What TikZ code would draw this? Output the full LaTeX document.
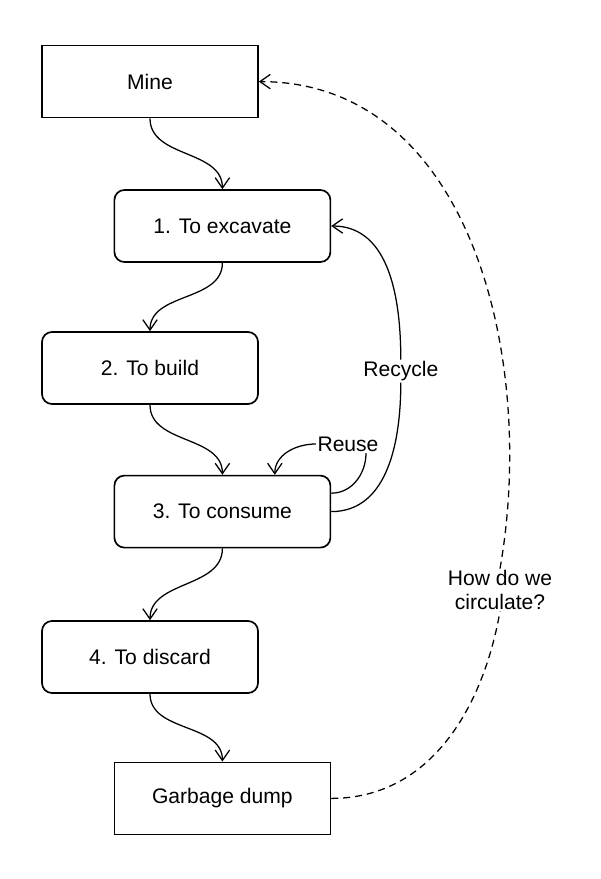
\documentclass[tikz,border=0pt]{standalone}
\usepackage{fontspec}
\setmainfont{Liberation Sans}
\usetikzlibrary{arrows.meta}

\begin{document}
\begin{tikzpicture}[
		box/.style = {draw, line width=1.2pt, minimum width=5.4cm, minimum height=1.8cm, font=\fontsize{15}{17}\selectfont},
		rbox/.style = {box, rounded corners=0.25cm},
		flow/.style = {line width=0.9pt, -{Straight Barb[length=2.6mm, width=3.6mm]}},
		lbl/.style = {font=\fontsize{15}{17}\selectfont, inner sep=1pt, align=center}]
		\useasboundingbox (0,0) rectangle (15,-21.975);
		\node[box] (M) at (3.75,-2.04) {Mine};
		\node[rbox] (E) at (5.56,-5.65) {1. To excavate};
		\node[rbox] (B) at (3.75,-9.2) {2. To build};
		\node[rbox] (C) at (5.56,-12.79) {3. To consume};
		\node[rbox] (D) at (3.75,-16.425) {4. To discard};
		\node[box] (G) at (5.56,-19.96) {Garbage dump};
		\node[lbl] (rec) at (10.02,-9.28) {Recycle};
		\node[lbl] (reuse) at (8.7,-11.1) {Reuse};
		\node[lbl] (circ) at (12.5,-14.75) {How do we\\circulate?};
		\path[flow] (M.south) edge[out=-90, in=90] (E.north)
			(E.south) edge[out=-90, in=90] (B.north)
			(B.south) edge[out=-90, in=90] (C.north)
			(C.south) edge[out=-90, in=90] (D.north)
			(D.south) edge[out=-90, in=90] (G.north);
		\draw[flow] (C.east) to[out=0, in=-90] (rec.south) (rec.north) to[out=90, in=0] (E.east);
		\draw[flow] ([yshift=0.46cm]C.east) to[out=0, in=-90] ([xshift=0.45cm]reuse.south)
			(reuse.west) to[out=180, in=90] ([xshift=1.31cm]C.north);
		\draw[flow, dash pattern=on 5pt off 3.5pt] (G.east) to[out=0, in=-100] (circ.south)
			(circ.north) to[out=80, in=0] (M.east);
	\end{tikzpicture}
\end{document}
